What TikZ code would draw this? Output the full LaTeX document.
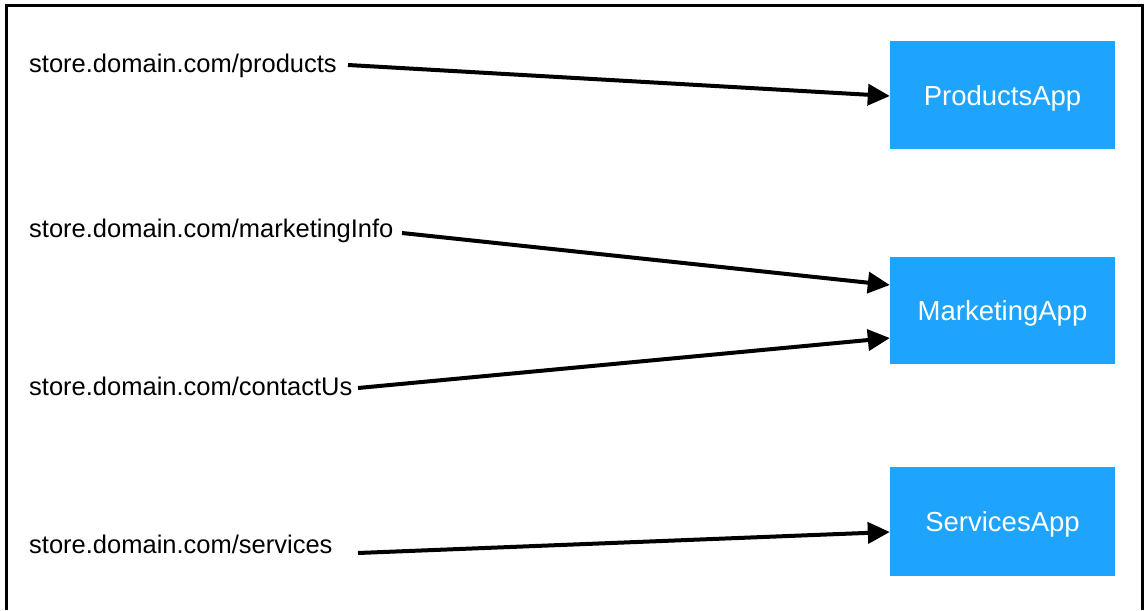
\documentclass[tikz,border=0pt]{standalone}
\usepackage{fontspec}
\setmainfont{Liberation Sans}
\usetikzlibrary{arrows.meta}
\definecolor{appblue}{RGB}{30,164,252}
\tikzset{
  urllabel/.style={anchor=base west, inner sep=0pt, font=\fontsize{25.5}{30}\selectfont, text=black},
  appbox/.style={fill=appblue, draw=none, minimum width=225pt, minimum height=108pt, inner sep=0pt, text=white, font=\fontsize{27.5}{32}\selectfont},
  apptext/.style={anchor=base, inner sep=0pt, text=white, font=\fontsize{27.5}{32}\selectfont},
  arr/.style={line width=4pt, -{Triangle[length=22pt,width=21pt]}},
  frame/.style={line width=3pt}
}
\begin{document}
\begin{tikzpicture}[x=1pt,y=-1pt]
\useasboundingbox (0,0) rectangle (1145,610);
\fill[white] (0,0) rectangle (1145,610);
\draw[frame] (6.5,610) -- (6.5,6) -- (1142.5,6) -- (1142.5,610);

\node[urllabel] (u1) at (29,72.5) {store.domain.com/products};
\node[urllabel] (u2) at (29,237.5) {store.domain.com/marketingInfo};
\node[urllabel] (u3) at (29,395.5) {store.domain.com/contactUs};
\node[urllabel] (u4) at (29,553.5) {store.domain.com/services};

\node[appbox] (pa) at (1002.5,95) {};
\node[appbox, minimum height=107pt] (ma) at (1002.5,310.5) {};
\node[appbox, minimum height=109pt] (sa) at (1002.5,521.5) {};
\node[apptext] (pat) at ([yshift=-10pt]pa.center) {ProductsApp};
\node[apptext] (mat) at ([yshift=-10pt]ma.center) {MarketingApp};
\node[apptext] (sat) at ([yshift=-10pt]sa.center) {ServicesApp};

\coordinate (s1) at (348,65);
\coordinate (s2) at (402,233);
\coordinate (s3) at (358,388);
\coordinate (s4) at (358,553);

\draw[arr] (s1) -- ([yshift=-1pt]pa.west);
\draw[arr] (s2) -- ([yshift=25.5pt]ma.west);
\draw[arr] (s3) -- ([yshift=-27.5pt]ma.west);
\draw[arr] (s4) -- ([yshift=-10.5pt]sa.west);
\end{tikzpicture}
\end{document}
